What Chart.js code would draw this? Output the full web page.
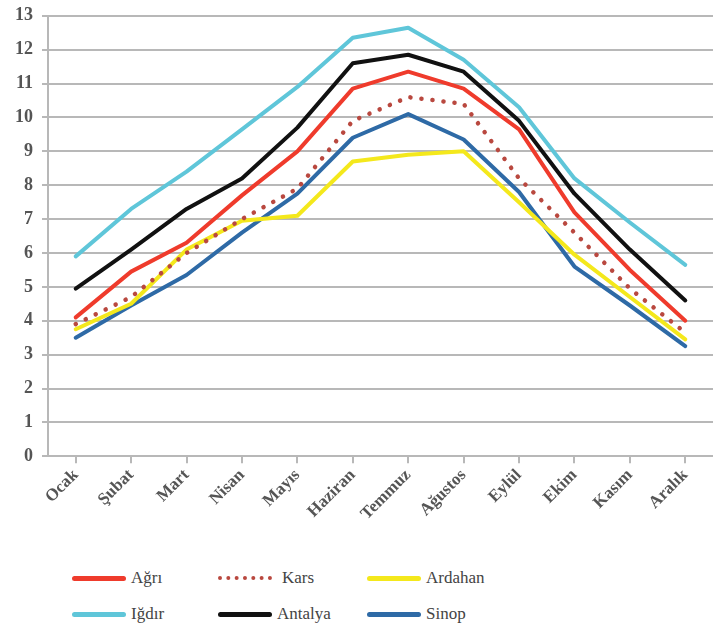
<!DOCTYPE html>
<html>
<head>
<meta charset="utf-8">
<script src="https://cdn.jsdelivr.net/npm/chart.js@4.4.1/dist/chart.umd.min.js"></script>
<style>
  html, body { margin: 0; padding: 0; background: #fff; }
  #wrap { position: relative; width: 713px; height: 628px; overflow: hidden; }
  #box { position: absolute; left: 0; top: -4px; width: 713px; height: 530px; }
  #legend { position: absolute; left: 0; top: 568px; width: 713px; }
  .item { position: absolute; display: flex; align-items: center; font: 17px 'Liberation Serif', serif; color: #444; }
  .swatch { width: 54px; height: 0; margin-right: 5px; border-top: 5px solid; border-radius: 3px; }
</style>
</head>
<body>
<div id="wrap">
  <div id="box"><canvas id="chart"></canvas></div>
  <div id="legend"></div>
</div>
<script>
// months (x axis)
const months = ['Ocak', 'Şubat', 'Mart', 'Nisan', 'Mayıs', 'Haziran', 'Temmuz', 'Ağustos', 'Eylül', 'Ekim', 'Kasım', 'Aralık'];

// values
const agri    = [4.1, 5.45, 6.3, 7.7, 9.0, 10.85, 11.35, 10.85, 9.65, 7.2, 5.5, 4.0];
const kars    = [3.9, 4.7, 6.0, 7.0, 7.9, 9.9, 10.6, 10.4, 8.2, 6.6, 4.95, 3.65];
const ardahan = [3.75, 4.5, 6.1, 6.95, 7.1, 8.7, 8.9, 9.0, 7.5, 5.95, 4.7, 3.45];
const igdir   = [5.9, 7.3, 8.4, 9.65, 10.9, 12.35, 12.65, 11.7, 10.3, 8.2, 6.9, 5.65];
const antalya = [4.95, 6.1, 7.3, 8.2, 9.7, 11.6, 11.85, 11.35, 9.9, 7.75, 6.1, 4.6];
const sinop   = [3.5, 4.45, 5.35, 6.6, 7.75, 9.4, 10.1, 9.35, 7.8, 5.6, 4.45, 3.25];

const names  = ['Ağrı', 'Kars', 'Ardahan', 'Iğdır', 'Antalya', 'Sinop'];
const series = [agri, kars, ardahan, igdir, antalya, sinop];
const colors = ['#ef3b2c', '#b9483f', '#f4e81c', '#5fc6d9', '#111111', '#2e6aa6'];

const datasets = series.map((data, i) => ({
  label: names[i],
  data: data,
  borderColor: colors[i],
  backgroundColor: colors[i],
  borderWidth: names[i] === 'Kars' ? 4.5 : 4,
  borderDash: names[i] === 'Kars' ? [0.1, 11] : [],
  borderCapStyle: 'round',
  borderJoinStyle: 'round',
  pointRadius: 0,
  tension: 0,
  fill: false
}));

new Chart(document.getElementById('chart'), {
  type: 'line',
  data: { labels: months, datasets: datasets },
  options: {
    responsive: true, maintainAspectRatio: false,
    animation: false,
    layout: { padding: { left: 6, top: 0, right: 0, bottom: 0 } },
    plugins: { legend: { display: false }, tooltip: { enabled: false } },
    scales: {
      y: {
        min: 0, max: 13,
        ticks: { stepSize: 1, padding: 9, color: '#555', font: { family: 'Liberation Serif', size: 18, weight: 'bold' } },
        grid: { color: '#b8b8b8', lineWidth: 2, tickLength: 6 },
        border: { color: '#b8b8b8', width: 2 }
      },
      x: {
        offset: true,
        ticks: { minRotation: 45, maxRotation: 45, padding: 2, color: '#555', font: { family: 'Liberation Serif', size: 17, weight: 'bold' } },
        grid: { drawOnChartArea: false, color: '#b8b8b8', lineWidth: 2, tickLength: 7 },
        border: { color: '#b8b8b8', width: 2 }
      }
    }
  }
});

// legend in 3 columns, 2 rows
const legend = document.getElementById('legend');
const colX = [72, 218, 367];
names.forEach((name, i) => {
  const el = document.createElement('div');
  el.className = 'item';
  el.style.left = colX[i % 3] + 'px';
  el.style.top = (Math.floor(i / 3) * 36) + 'px';
  const sw = document.createElement('span');
  sw.className = 'swatch';
  sw.style.borderTopColor = colors[i];
  if (name === 'Kars') { sw.style.borderTopStyle = 'dotted'; sw.style.borderTopWidth = '4px'; sw.style.borderRadius = '0'; sw.style.marginRight = '10px'; }
  el.appendChild(sw);
  el.appendChild(document.createTextNode(name));
  legend.appendChild(el);
});
</script>
</body>
</html>
